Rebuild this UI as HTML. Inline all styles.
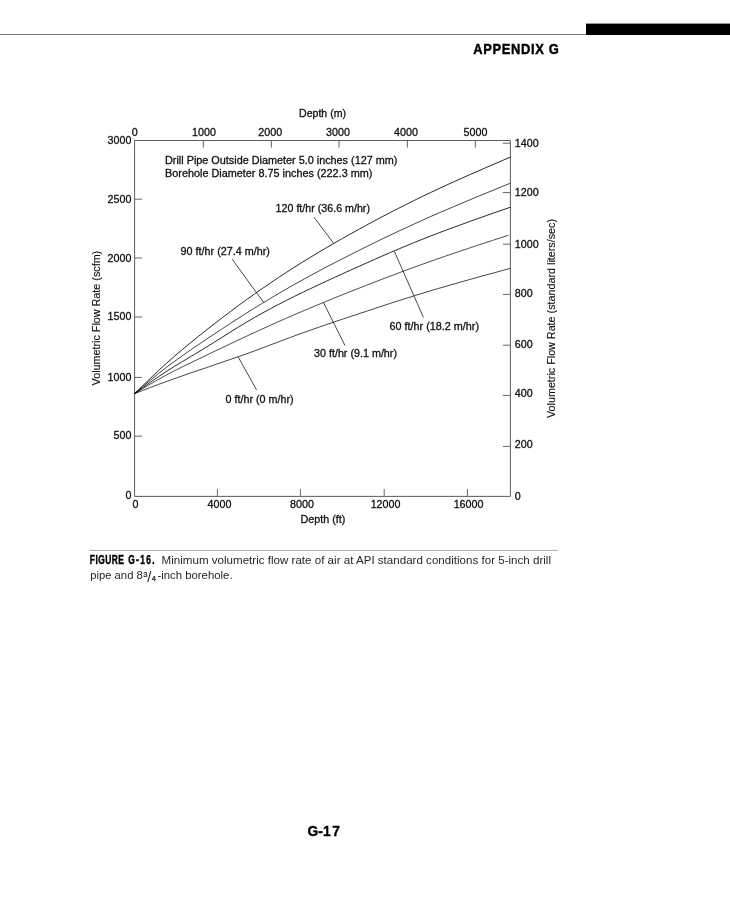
<!DOCTYPE html>
<html lang="en"><head><meta charset="utf-8"><title>Appendix G - G-17</title>
<style>
html,body{margin:0;padding:0;background:#fff;}
body{width:730px;height:900px;overflow:hidden;position:relative;}
svg{position:absolute;left:0;top:0;display:block;}
text{font-family:"Liberation Sans",Arial,Helvetica,sans-serif;fill:#111;}
.t{font-size:10.7px;stroke:#111;stroke-width:0.3px;}
.b{font-weight:bold;}
</style></head><body>
<svg width="730" height="900" viewBox="0 0 730 900">
<rect x="0" y="0" width="730" height="900" fill="#ffffff"/>
<rect x="0" y="34" width="587" height="1" fill="#777"/>
<rect x="586" y="23.6" width="144" height="11.4" fill="#000"/>
<text class="b" transform="translate(473.3,54.3) scale(0.84,1)" style="font-size:15.4px;fill:#000;stroke:#000;stroke-width:0.45px;letter-spacing:0.75px">APPENDIX G</text>
<g fill="none" stroke="#4a4a4a" stroke-width="0.9">
<path d="M134.6,140.5 H510.4 V496.4 H134.6 Z"/>
</g>
<g fill="none" stroke="#666" stroke-width="1">
<path d="M134.6,199.2 h7.4"/>
<path d="M134.6,258 h7.4"/>
<path d="M134.6,317 h7.4"/>
<path d="M134.6,377.4 h7.4"/>
<path d="M134.6,436.2 h7.4"/>
<path d="M510.4,143.2 h-7.6"/>
<path d="M510.4,192.6 h-7.6"/>
<path d="M510.4,244.2 h-7.6"/>
<path d="M510.4,294.4 h-7.6"/>
<path d="M510.4,345.2 h-7.6"/>
<path d="M510.4,395.4 h-7.6"/>
<path d="M510.4,446.4 h-7.6"/>
<path d="M203.4,140.5 v7.1"/>
<path d="M271.4,140.5 v7.1"/>
<path d="M339.0,140.5 v7.1"/>
<path d="M407.4,140.5 v7.1"/>
<path d="M475.4,140.5 v7.1"/>
<path d="M217.4,496.4 v-7.4"/>
<path d="M300.4,496.4 v-7.4"/>
<path d="M384.2,496.4 v-7.4"/>
<path d="M467.4,496.4 v-7.4"/>
</g>
<g fill="none" stroke="#000" stroke-width="0.82">
<path stroke-width="0.85" d="M134.6,393.6 L142.6,385.8 L150.6,378.1 L158.6,370.5 L166.6,363.2 L174.6,356.2 L182.5,349.4 L190.5,342.8 L198.5,336.3 L206.5,329.9 L214.5,323.7 L222.5,317.5 L230.5,311.5 L238.5,305.5 L246.5,299.7 L254.5,294.0 L262.5,288.4 L270.5,283.0 L278.4,277.6 L286.4,272.4 L294.4,267.2 L302.4,262.2 L310.4,257.3 L318.4,252.4 L326.4,247.7 L334.4,243.1 L342.4,238.5 L350.4,234.0 L358.4,229.6 L366.4,225.2 L374.3,220.9 L382.3,216.7 L390.3,212.5 L398.3,208.4 L406.3,204.4 L414.3,200.4 L422.3,196.5 L430.3,192.7 L438.3,188.9 L446.3,185.2 L454.3,181.6 L462.3,178.0 L470.2,174.5 L478.2,171.0 L486.2,167.5 L494.2,164.1 L502.2,160.6 L510.2,157.2"/>
<path stroke-width="0.74" d="M134.6,393.6 L142.6,386.7 L150.6,380.0 L158.6,373.4 L166.6,367.2 L174.6,361.3 L182.5,355.6 L190.5,350.0 L198.5,344.6 L206.5,339.2 L214.5,333.9 L222.5,328.6 L230.5,323.4 L238.5,318.2 L246.5,313.1 L254.5,308.1 L262.5,303.2 L270.5,298.4 L278.4,293.6 L286.4,289.0 L294.4,284.4 L302.4,280.0 L310.4,275.6 L318.4,271.3 L326.4,267.0 L334.4,262.9 L342.4,258.8 L350.4,254.7 L358.4,250.7 L366.4,246.7 L374.3,242.8 L382.3,238.9 L390.3,235.1 L398.3,231.3 L406.3,227.6 L414.3,223.9 L422.3,220.3 L430.3,216.7 L438.3,213.2 L446.3,209.8 L454.3,206.4 L462.3,203.0 L470.2,199.7 L478.2,196.3 L486.2,193.1 L494.2,189.8 L502.2,186.5 L510.2,183.3"/>
<path stroke-width="0.85" d="M134.6,393.6 L142.6,387.8 L150.6,382.1 L158.6,376.6 L166.6,371.3 L174.6,366.3 L182.5,361.5 L190.5,356.7 L198.5,351.9 L206.5,347.0 L214.5,342.0 L222.5,337.0 L230.5,332.0 L238.5,327.0 L246.5,322.2 L254.5,317.5 L262.5,313.0 L270.5,308.7 L278.4,304.5 L286.4,300.4 L294.4,296.4 L302.4,292.5 L310.4,288.7 L318.4,284.9 L326.4,281.2 L334.4,277.5 L342.4,273.8 L350.4,270.2 L358.4,266.6 L366.4,263.1 L374.3,259.5 L382.3,256.0 L390.3,252.6 L398.3,249.2 L406.3,245.8 L414.3,242.5 L422.3,239.3 L430.3,236.1 L438.3,233.1 L446.3,230.0 L454.3,227.1 L462.3,224.2 L470.2,221.3 L478.2,218.5 L486.2,215.6 L494.2,212.8 L502.2,210.1 L510.2,207.3"/>
<path stroke-width="0.7" d="M134.6,393.6 L142.6,388.7 L150.5,384.0 L158.5,379.4 L166.4,375.0 L174.4,370.8 L182.3,366.9 L190.3,363.0 L198.2,359.2 L206.2,355.4 L214.1,351.5 L222.1,347.8 L230.0,344.0 L238.0,340.2 L245.9,336.5 L253.9,332.8 L261.8,329.2 L269.8,325.6 L277.7,322.0 L285.7,318.5 L293.6,315.0 L301.6,311.6 L309.5,308.3 L317.5,304.9 L325.4,301.7 L333.4,298.4 L341.3,295.2 L349.3,292.0 L357.2,288.9 L365.2,285.8 L373.1,282.7 L381.1,279.6 L389.0,276.6 L397.0,273.6 L404.9,270.6 L412.9,267.7 L420.8,264.8 L428.8,262.0 L436.7,259.2 L444.7,256.4 L452.6,253.7 L460.6,251.0 L468.5,248.4 L476.5,245.7 L484.4,243.1 L492.4,240.5 L500.3,237.9 L508.3,235.3"/>
<path stroke-width="0.74" d="M134.6,393.6 L142.6,390.5 L150.6,387.4 L158.6,384.4 L166.6,381.5 L174.6,378.6 L182.5,375.8 L190.5,373.0 L198.5,370.3 L206.5,367.6 L214.5,364.9 L222.5,362.1 L230.5,359.4 L238.5,356.6 L246.5,353.8 L254.5,350.9 L262.5,347.9 L270.5,344.9 L278.4,341.9 L286.4,338.9 L294.4,335.9 L302.4,333.0 L310.4,330.2 L318.4,327.4 L326.4,324.6 L334.4,321.9 L342.4,319.2 L350.4,316.6 L358.4,313.9 L366.4,311.3 L374.3,308.7 L382.3,306.0 L390.3,303.4 L398.3,300.8 L406.3,298.3 L414.3,295.8 L422.3,293.3 L430.3,290.9 L438.3,288.5 L446.3,286.2 L454.3,283.9 L462.3,281.6 L470.2,279.4 L478.2,277.1 L486.2,274.9 L494.2,272.8 L502.2,270.6 L510.2,268.4"/>
<path stroke-width="0.72" d="M314,217.2 L333.8,243.5"/>
<path stroke-width="0.72" d="M232,259 L263.6,302.4"/>
<path stroke-width="0.72" d="M394.4,251.4 L423.4,317.4"/>
<path stroke-width="0.72" d="M323.4,302.4 L345,345.6"/>
<path stroke-width="0.72" d="M238,356.6 L256.6,390"/>
</g>
<text x="131.4" y="144.3" class="t" text-anchor="end">3000</text>
<text x="131.4" y="203.1" class="t" text-anchor="end">2500</text>
<text x="131.4" y="262.1" class="t" text-anchor="end">2000</text>
<text x="131.4" y="320.4" class="t" text-anchor="end">1500</text>
<text x="131.4" y="380.9" class="t" text-anchor="end">1000</text>
<text x="131.4" y="438.7" class="t" text-anchor="end">500</text>
<text x="131.4" y="499.3" class="t" text-anchor="end">0</text>
<text x="514.8" y="147.1" class="t">1400</text>
<text x="514.8" y="196.3" class="t">1200</text>
<text x="514.8" y="247.9" class="t">1000</text>
<text x="514.8" y="297.3" class="t">800</text>
<text x="514.8" y="348.3" class="t">600</text>
<text x="514.8" y="397.4" class="t">400</text>
<text x="514.8" y="448.4" class="t">200</text>
<text x="514.8" y="500.3" class="t">0</text>
<text x="134.8" y="136" class="t" text-anchor="middle">0</text>
<text x="204" y="136" class="t" text-anchor="middle">1000</text>
<text x="270.2" y="136" class="t" text-anchor="middle">2000</text>
<text x="338" y="136" class="t" text-anchor="middle">3000</text>
<text x="406" y="136" class="t" text-anchor="middle">4000</text>
<text x="475.5" y="136" class="t" text-anchor="middle">5000</text>
<text x="135.5" y="508" class="t" text-anchor="middle">0</text>
<text x="219.5" y="508" class="t" text-anchor="middle">4000</text>
<text x="302" y="508" class="t" text-anchor="middle">8000</text>
<text x="385.5" y="508" class="t" text-anchor="middle">12000</text>
<text x="468.5" y="508" class="t" text-anchor="middle">16000</text>
<text x="299" y="117" class="t" textLength="47" lengthAdjust="spacingAndGlyphs">Depth (m)</text>
<text x="300.6" y="523" class="t" textLength="44.8" lengthAdjust="spacingAndGlyphs">Depth (ft)</text>
<text x="165" y="164" class="t" textLength="232.4" lengthAdjust="spacingAndGlyphs">Drill Pipe Outside Diameter 5.0 inches (127 mm)</text>
<text x="165" y="177" class="t" textLength="207.4" lengthAdjust="spacingAndGlyphs">Borehole Diameter 8.75 inches (222.3 mm)</text>
<text x="275.6" y="212" class="t" textLength="94.4" lengthAdjust="spacingAndGlyphs">120 ft/hr (36.6 m/hr)</text>
<text x="180.6" y="255.4" class="t" textLength="89.3" lengthAdjust="spacingAndGlyphs">90 ft/hr (27.4 m/hr)</text>
<text x="389.6" y="330" class="t" textLength="89.4" lengthAdjust="spacingAndGlyphs">60 ft/hr (18.2 m/hr)</text>
<text x="314" y="357" class="t" textLength="83" lengthAdjust="spacingAndGlyphs">30 ft/hr (9.1 m/hr)</text>
<text x="225.6" y="403" class="t" textLength="68" lengthAdjust="spacingAndGlyphs">0 ft/hr (0 m/hr)</text>
<text class="t" style="stroke-width:0.12px" transform="translate(100.1,385.4) rotate(-90)" textLength="134.6" lengthAdjust="spacingAndGlyphs">Volumetric Flow Rate (scfm)</text>
<text class="t" style="stroke-width:0.12px" transform="translate(555,418) rotate(-90)" textLength="199" lengthAdjust="spacingAndGlyphs">Volumetric Flow Rate (standard liters/sec)</text>
<rect x="89.6" y="549.9" width="468.2" height="1" fill="#a8a8a8"/>
<text class="b" transform="translate(89.8,563.8) scale(0.7,1)" style="font-size:12px;fill:#000;stroke:#000;stroke-width:0.45px;letter-spacing:0.7px">FIGURE</text>
<text class="b" transform="translate(128.2,563.8) scale(0.7,1)" style="font-size:12px;fill:#000;stroke:#000;stroke-width:0.45px;letter-spacing:1.9px">G-16.</text>
<text class="c" x="161.6" y="563.8" textLength="389.4" lengthAdjust="spacingAndGlyphs" style="font-size:11.55px;fill:#262626">Minimum volumetric flow rate of air at API standard conditions for 5-inch drill</text>
<text class="c" x="90.2" y="579.2" style="font-size:11.55px;fill:#262626"><tspan textLength="52.6" lengthAdjust="spacingAndGlyphs">pipe and 8</tspan><tspan x="143.2" y="576.6" style="font-size:7.6px;fill:#222;stroke:#222;stroke-width:0.25px">3</tspan><tspan x="147.2" y="582" style="font-size:14.6px">/</tspan><tspan x="151.8" y="580.8" style="font-size:7.6px;fill:#222;stroke:#222;stroke-width:0.25px">4</tspan><tspan x="157.4" y="579.2" textLength="75.2" lengthAdjust="spacingAndGlyphs">-inch borehole.</tspan></text>
<text class="b" transform="translate(307.4,836) scale(0.9,1)" dx="0 -0.76 -0.61 0.76" style="font-size:15.3px;fill:#000;stroke:#000;stroke-width:0.4px;letter-spacing:0.9px">G-17</text>
</svg>
</body></html>
